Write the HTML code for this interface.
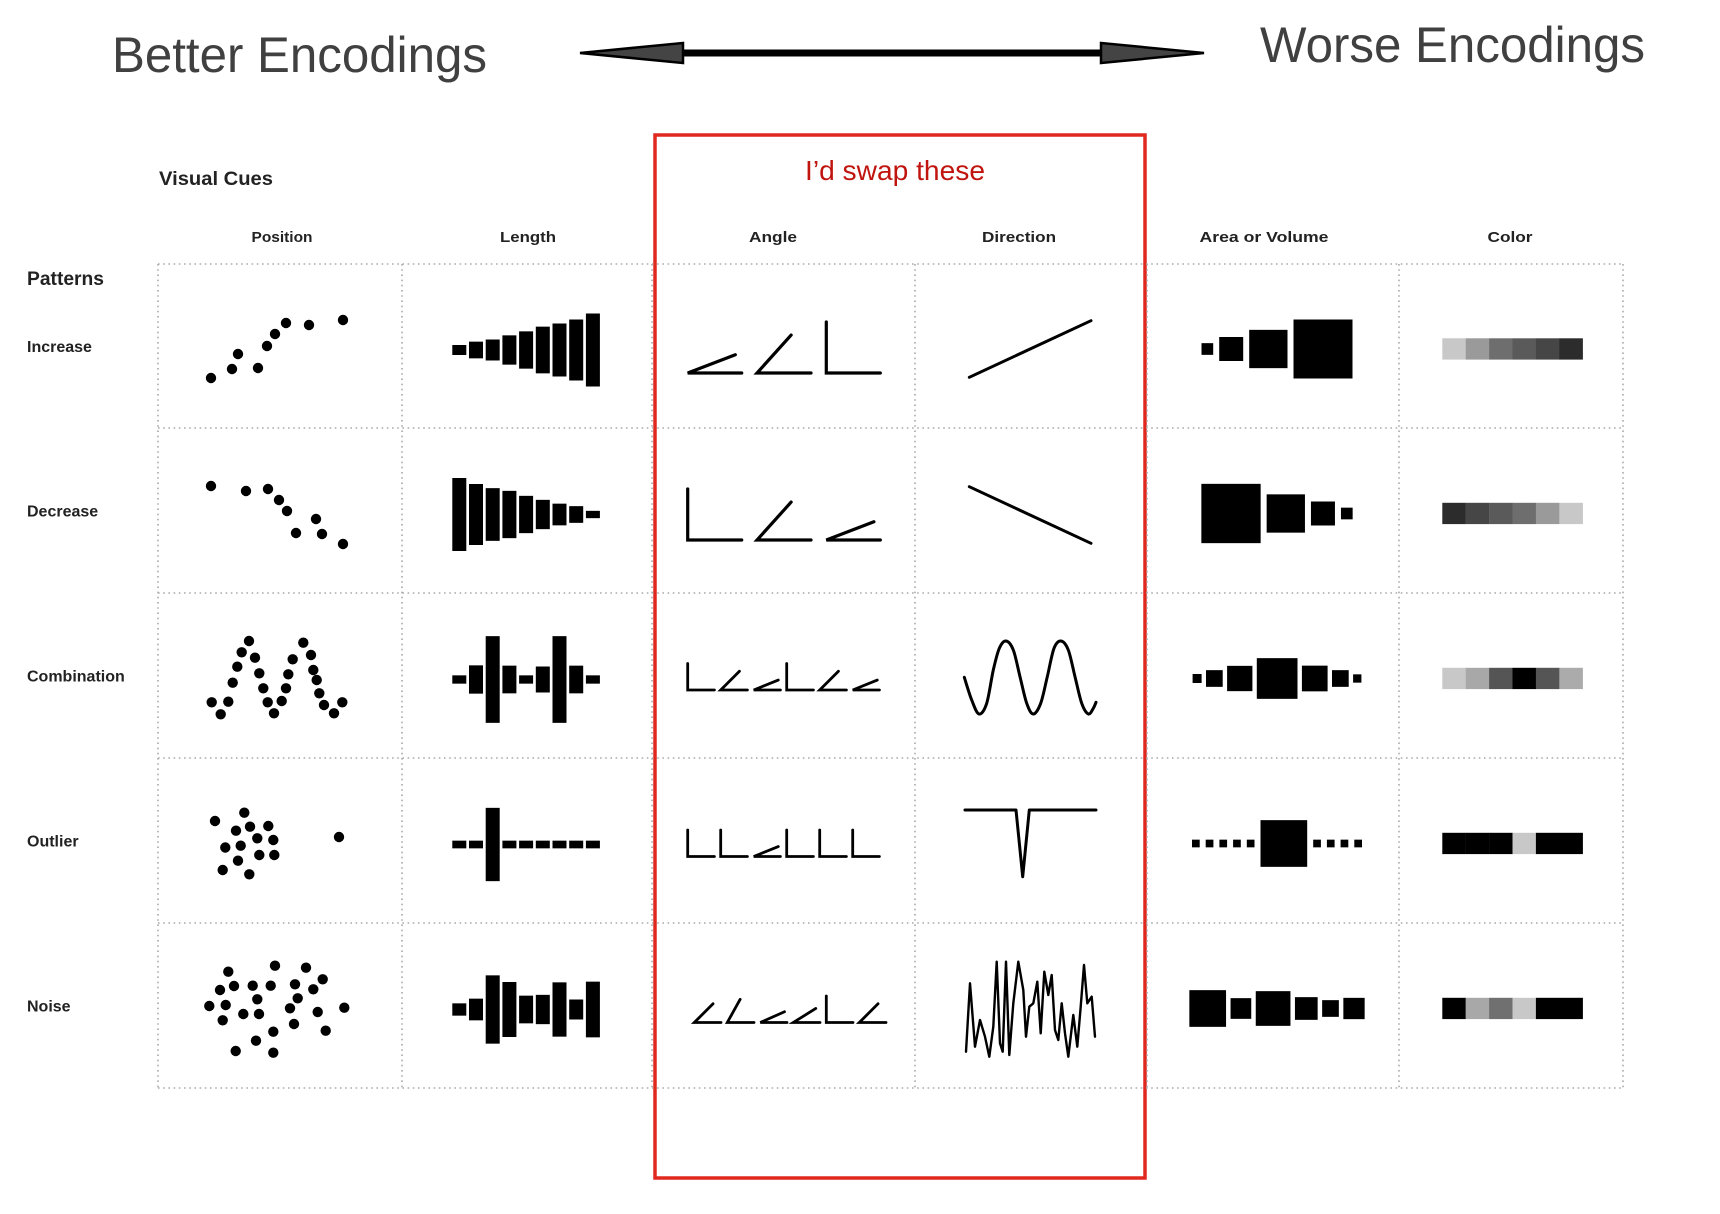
<!DOCTYPE html>
<html><head><meta charset="utf-8"><style>
html,body{margin:0;padding:0;background:#fff;}
svg{display:block;}
.t{font-family:"Liberation Sans",sans-serif;}
</style></head><body>
<svg id="chart" width="1720" height="1214" viewBox="0 0 1720 1214" xmlns="http://www.w3.org/2000/svg">
<rect width="1720" height="1214" fill="#fff"/>
<text class="t" x="112" y="72" font-size="50" fill="#404040" textLength="375" lengthAdjust="spacingAndGlyphs">Better Encodings</text>
<text class="t" x="1260" y="62" font-size="50" fill="#404040" textLength="385" lengthAdjust="spacingAndGlyphs">Worse Encodings</text>
<g>
<line x1="680" y1="53" x2="1104" y2="53" stroke="#000" stroke-width="7"/>
<polygon points="580,53 683,43 683,63" fill="#444" stroke="#000" stroke-width="2.5"/>
<polygon points="1204,53 1101,43 1101,63" fill="#444" stroke="#000" stroke-width="2.5"/>
</g>
<rect x="655" y="135" width="490" height="1043" fill="none" stroke="#e0281f" stroke-width="3.5"/>
<text class="t" x="895" y="180" font-size="28" fill="#c0140f" text-anchor="middle" textLength="180" lengthAdjust="spacingAndGlyphs">I’d swap these</text>
<text class="t" x="159" y="185" font-size="19" font-weight="bold" fill="#222" textLength="114" lengthAdjust="spacingAndGlyphs">Visual Cues</text>
<text class="t" x="27" y="285" font-size="19" font-weight="bold" fill="#222" textLength="77" lengthAdjust="spacingAndGlyphs">Patterns</text>
<g id="grid"></g>
<g id="labels"></g>
<g id="marks"></g>
</svg>
<script>
const columns = ["Position","Length","Angle","Direction","Area or Volume","Color"];
const colHeaderWidths = [61,56,48,74,129,45];
const patterns = ["Increase","Decrease","Combination","Outlier","Noise"];
const colLeft = [158,402,652,915,1147,1399,1623];
const rowTop = [264,428,593,758,923,1088];

// Position: dot x (px from cell left) and y (px above row middle)
const posX = [
 [53,74,80,100,109,117,128,151,185],
 [53,88,110,121,129,158,138,164,185],
 [53.7,62.7,70.3,74.7,79.3,83.7,91,97,101.3,105.3,109.7,116,123.7,128,130.3,134.7,145.3,153,155.3,158.7,161.3,166,176,184.3],
 [57,86.3,78,92,110.3,99.3,115.3,67.3,82.7,101.3,116.3,80,64.7,91.3,181],
 [70.3,117,148,164.7,62,76,94.7,112.7,137,155.3,99.3,139.7,51.3,67.7,132,186.3,85.3,101,159.7,64.7,136,115.3,167.7,98,77.7,115.3]
];
const posY = [
 [-32,-23,-8,-22,0,12,23,21,26],
 [24.5,19.5,21.5,10.5,-0.5,-8.5,-22.5,-23.5,-33.5],
 [-26.8,-38.8,-26.2,-7.2,8.8,23.2,34.5,17.8,2.2,-12.8,-26.8,-37.8,-25.5,-12.8,1.2,16.2,32.8,20.5,5.5,-4.5,-17.8,-29.5,-37.8,-26.8],
 [19.5,27.8,9.8,13.8,14.5,2.2,0.5,-7,-5.2,-14.5,-14.5,-20.2,-29.5,-33.8,3.5],
 [33.8,39.8,37.8,26.2,15.5,19.5,19.8,19.8,21.2,16.2,6.2,7.2,-0.5,0.5,-2.8,-2.2,-8.5,-8.5,-6.5,-14.8,-18.5,-26.2,-25.2,-35.2,-45.5,-47.2]
];
// Length: bar heights
const lengthValues = [
 [10,16.7,21,29.3,37.3,46.7,53,61,73],
 [73,61,52.7,47.3,37.3,29.3,21.7,16.7,7.3],
 [8.3,28.3,86.7,27.7,8.3,26,86.7,27.7,8.3],
 [7.7,7.7,73.3,7.7,7.7,7.7,7.7,7.7,7.7],
 [12.3,21.7,68.3,55,27.7,29.3,54.3,20,55.7]
];
// Angle: degrees
const angleValues = [
 [21,48,90],
 [90,48,21],
 [90,45,22,90,45,22],
 [90,90,22,90,90,90],
 [45,61,24,32,90,45]
];
// Direction: polyline x (px from cell left) and y (px above row middle)
const dirX = [
 [54.3,176],
 [54.3,176],
 [49.3,56.7,64,71.7,78.3,84.3,91,98.3,105,111.7,118.3,125.7,132.3,139,146,153.3,160,166.7,173.3,178.3,181],
 [50,101,107.7,114.3,181],
 [51,55,60,65,70,74.3,78.3,81.7,85,87.7,91,94.3,98.3,103.3,108.3,111,114.3,118.3,122.3,125.7,129.3,133.3,136.7,140,143.3,146.7,150,153.3,158.3,162.3,165.7,169,172.3,176.7,180]
];
const dirY = [
 [-31.3,25.3],
 [23.8,-32.8],
 [-1.8,-24.5,-38.5,-27.8,5.5,27.2,34.5,25.5,-1.2,-27.8,-38.5,-27.8,-1.2,27.2,34.5,25.5,-1.2,-27.8,-38.5,-32.8,-26.8],
 [30.5,30.5,-36.2,30.5,30.5],
 [-46.2,22.2,-41.2,-14.5,-31.2,-51.2,-21.2,43.8,-37.8,-46.2,43.8,-49.5,2.2,43.8,15.5,-31.2,-1.2,2.2,23.8,-27.8,33.8,10.5,30.5,-24.5,-34.5,2.2,-27.8,-51.2,-9.5,-41.2,-1.2,40.5,2.2,8.8,-31.2]
];
// Area: square side lengths
const areaValues = [
 [11.7,24,38.3,59],
 [59.3,38.3,24,11.7],
 [9,16.7,25.3,40.7,25.7,16.7,8.3],
 [7.7,7.7,7.7,7.7,7.7,46.7,7.7,7.7,7.7,7.7],
 [36.7,20.7,34.7,22.7,16.7,21.3]
];
// Color: gray lightness 0-255
const colorValues = [
 [200,154,110,90,70,44],
 [44,70,90,110,154,200],
 [200,168,85,0,85,171],
 [0,0,0,200,0,0],
 [0,168,112,200,0,0]
];

const NS = "http://www.w3.org/2000/svg";
const rowMid = patterns.map((p,i)=>(rowTop[i]+rowTop[i+1])/2);
const xPos = (c,v)=>colLeft[c]+v;
const yPos = (r,v)=>rowMid[r]-v;
function mk(tag, parent, attrs){
  const e=document.createElementNS(NS,tag);
  for(const k in attrs) e.setAttribute(k,attrs[k]);
  parent.appendChild(e); return e;
}
function smoothPath(p){
  let d=`M${p[0][0]},${p[0][1]}`;
  for(let i=0;i<p.length-1;i++){
    const p0=p[Math.max(0,i-1)],p1=p[i],p2=p[i+1],p3=p[Math.min(p.length-1,i+2)];
    const c1=[p1[0]+(p2[0]-p0[0])/6,p1[1]+(p2[1]-p0[1])/6];
    const c2=[p2[0]-(p3[0]-p1[0])/6,p2[1]-(p3[1]-p1[1])/6];
    d+=` C${c1[0]},${c1[1]} ${c2[0]},${c2[1]} ${p2[0]},${p2[1]}`;
  }
  return d;
}
const grid=document.getElementById('grid');
const labels=document.getElementById('labels');
const marks=document.getElementById('marks');
const dot={stroke:"#aaa","stroke-width":1.6,"stroke-dasharray":"1.6 3.6"};

colLeft.forEach((x,i)=>{
  const l=mk('line',grid,Object.assign({x1:x,y1:rowTop[0],x2:x,y2:rowTop[5]},dot));
  
  
});
rowTop.forEach((y,i)=>{
  const l=mk('line',grid,Object.assign({x1:colLeft[0],y1:y,x2:colLeft[6],y2:y},dot));
  
  
});
const headerCenters=[282,528,773,1019,1264,1510];
columns.forEach((c,i)=>{
  const t=mk('text',labels,{x:headerCenters[i],y:242,"font-size":15,"font-weight":"bold",fill:"#222","text-anchor":"middle","font-family":"Liberation Sans, sans-serif",textLength:colHeaderWidths[i],lengthAdjust:"spacingAndGlyphs"});
  t.textContent=c;
  
  
});
patterns.forEach((p,i)=>{
  const t=mk('text',labels,{x:27,y:rowMid[i]+6,"font-size":16,"font-weight":"bold",fill:"#222","font-family":"Liberation Sans, sans-serif"});
  t.textContent=p;
  
  
});

patterns.forEach((p,r)=>{
  const key=p.toLowerCase();
  let g=mk('g',marks,{});
  
  
  posX[r].forEach((v,i)=>{
    const c=mk('circle',g,{cx:xPos(0,v),cy:yPos(r,posY[r][i]),r:5.2,fill:"#000"});
    
    
  });
  g=mk('g',marks,{});
  
  
  lengthValues[r].forEach((h,i)=>{
    const b=mk('rect',g,{x:xPos(1,50.3+i*16.7),y:rowMid[r]+4-h/2,width:14,height:h,fill:"#000"});
    
    
  });
  g=mk('g',marks,{});
  
  
  const big=angleValues[r].length<=3;
  const start=(r==4)?42.3:35.7, sp=big?69.3:33, base=big?54:26.7, arm=big?51:26.5;
  const baseOff=[27,29.5,14.5,16,17][r];
  angleValues[r].forEach((d,i)=>{
    const vx=xPos(2,start+i*sp), vy=rowMid[r]+baseOff;
    const a=d*Math.PI/180;
    const pl=mk('polyline',g,{points:`${vx+arm*Math.cos(a)},${vy-arm*Math.sin(a)} ${vx},${vy} ${vx+base},${vy}`,fill:"none",stroke:"#000","stroke-width":big?3.2:2.8,"stroke-linejoin":"miter","stroke-linecap":"round"});
    
    
  });
  const ptsArr=dirX[r].map((v,i)=>[xPos(3,v),yPos(r,dirY[r][i])]);
  let ln;
  if(r==2){
    ln=mk('path',marks,{d:smoothPath(ptsArr),fill:"none",stroke:"#000","stroke-width":3,"stroke-linecap":"round"});
  } else {
    ln=mk('polyline',marks,{points:ptsArr.map(q=>q.join(',')).join(' '),fill:"none",stroke:"#000","stroke-width":r==4?2.4:3,"stroke-linejoin":"round","stroke-linecap":"round"});
  }
  
  
  g=mk('g',marks,{});
  
  
  const gap=[6,6,4.4,6,4.5][r];
  const total=areaValues[r].reduce((a,b)=>a+b,0)+gap*(areaValues[r].length-1);
  let x=xPos(4,130)-total/2;
  areaValues[r].forEach(s=>{
    const q=mk('rect',g,{x:x,y:rowMid[r]+3-s/2,width:s,height:s,fill:"#000"});
    
    
    x+=s+gap;
  });
  g=mk('g',marks,{});
  
  
  colorValues[r].forEach((v,i)=>{
    const c=mk('rect',g,{x:xPos(5,43.3+i*23.4),y:rowMid[r]+3-10.7,width:23.6,height:21.3,fill:`rgb(${v},${v},${v})`});
    
    
  });
});
</script>
</body></html>
